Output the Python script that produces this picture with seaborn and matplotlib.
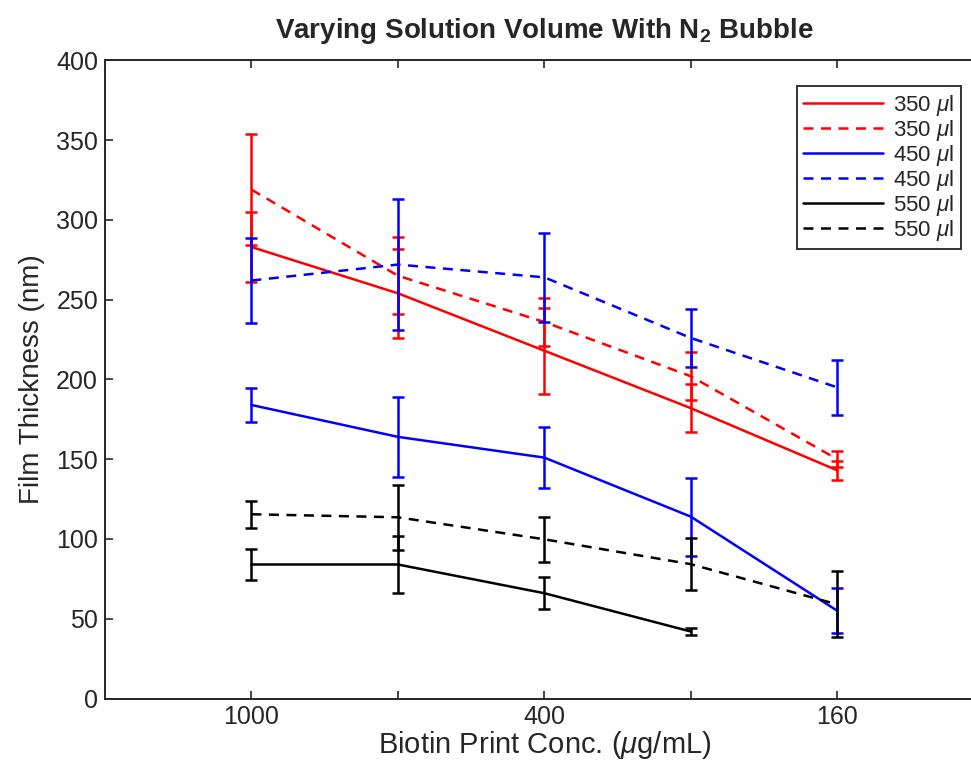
import pandas as pd
import numpy as np
import matplotlib
matplotlib.use("Agg")
import matplotlib.pyplot as plt
import seaborn as sns

# data (x positions 1..5)
positions = [1, 2, 3, 4, 5]
tick_labels = ["1000", "", "400", "", "160"]

red_solid = [283, 254, 218, 182, 143]
red_solid_err = [22, 28, 27, 15, 6]
red_dash = [319, 265, 236, 202, 150]
red_dash_err = [35, 24, 15, 15, 5]
blue_solid = [184, 164, 151, 114, 55]
blue_solid_err = [10.5, 25, 19, 24.5, 14]
blue_dash = [262, 272, 264, 226, 195]
blue_dash_err = [26.5, 41, 28, 18, 17]
black_solid = [84, 84, 66, 42]
black_solid_err = [9.7, 17.6, 10, 2.5]
black_dash = [115.5, 113.6, 99.8, 84.2, 59]
black_dash_err = [8.5, 20.4, 14, 16.3, 20.7]

series = [
    ("350 $\\mu$l", red_solid, red_solid_err, "red", ""),
    ("350 $\\mu$l", red_dash, red_dash_err, "red", (4, 3)),
    ("450 $\\mu$l", blue_solid, blue_solid_err, "blue", ""),
    ("450 $\\mu$l", blue_dash, blue_dash_err, "blue", (4, 3)),
    ("550 $\\mu$l", black_solid, black_solid_err, "black", ""),
    ("550 $\\mu$l", black_dash, black_dash_err, "black", (4, 3)),
]

sns.set_theme(style="ticks")
plt.rcParams['font.family'] = ['Liberation Sans', 'DejaVu Sans']
plt.rcParams['mathtext.fontset'] = 'custom'
plt.rcParams['mathtext.rm'] = 'Liberation Sans'
plt.rcParams['mathtext.it'] = 'Liberation Sans:italic'
plt.rcParams['mathtext.bf'] = 'Liberation Sans:bold'

fig = plt.figure(figsize=(9.71, 7.67), dpi=100)
ax = fig.add_axes([0.1081, 0.0893, 0.905, 0.832])

handles = []
for label, vals, errs, color, dash in series:
    df = pd.DataFrame({"x": positions[:len(vals)], "y": vals})
    sns.lineplot(data=df, x="x", y="y", ax=ax, color=color, linewidth=1.8,
                 dashes=False, label=label, legend=False)
    line = ax.lines[-1]
    if dash:
        line.set_dashes(dash)
    handles.append(line)
    ax.errorbar(df["x"], df["y"], yerr=errs, fmt="none", ecolor=color,
                elinewidth=1.8, capsize=4.3, capthick=1.8)

ax.set_xlim(0, 6)
ax.set_ylim(0, 400)
ax.set_xticks(positions)
ax.set_xticklabels(tick_labels)
ax.set_yticks(np.arange(0, 401, 50))
ax.tick_params(direction="in", length=6, width=1.2, labelsize=18,
               top=True, right=True, colors="#262626", pad=5)
for s in ax.spines.values():
    s.set_linewidth(1.4)
    s.set_color("#262626")

ax.set_xlabel("Biotin Print Conc. ($\\mu$g/mL)", fontsize=21, labelpad=0)
ax.set_ylabel("Film Thickness (nm)", fontsize=20, labelpad=8)
ax.set_title("Varying Solution Volume With N$_{\\mathbf{2}}$ Bubble",
             fontsize=20, fontweight="bold", pad=16)

leg = ax.legend(handles=handles, labels=[s[0] for s in series],
                loc="upper right", bbox_to_anchor=(0.974, 0.96),
                borderaxespad=0, fontsize=16, frameon=True, fancybox=False,
                handlelength=3.6, handletextpad=0.45, labelspacing=0.0,
                borderpad=0.3)
leg.get_frame().set_edgecolor("black")
leg.get_frame().set_linewidth(1.4)

fig.savefig("out.png", dpi=100)
